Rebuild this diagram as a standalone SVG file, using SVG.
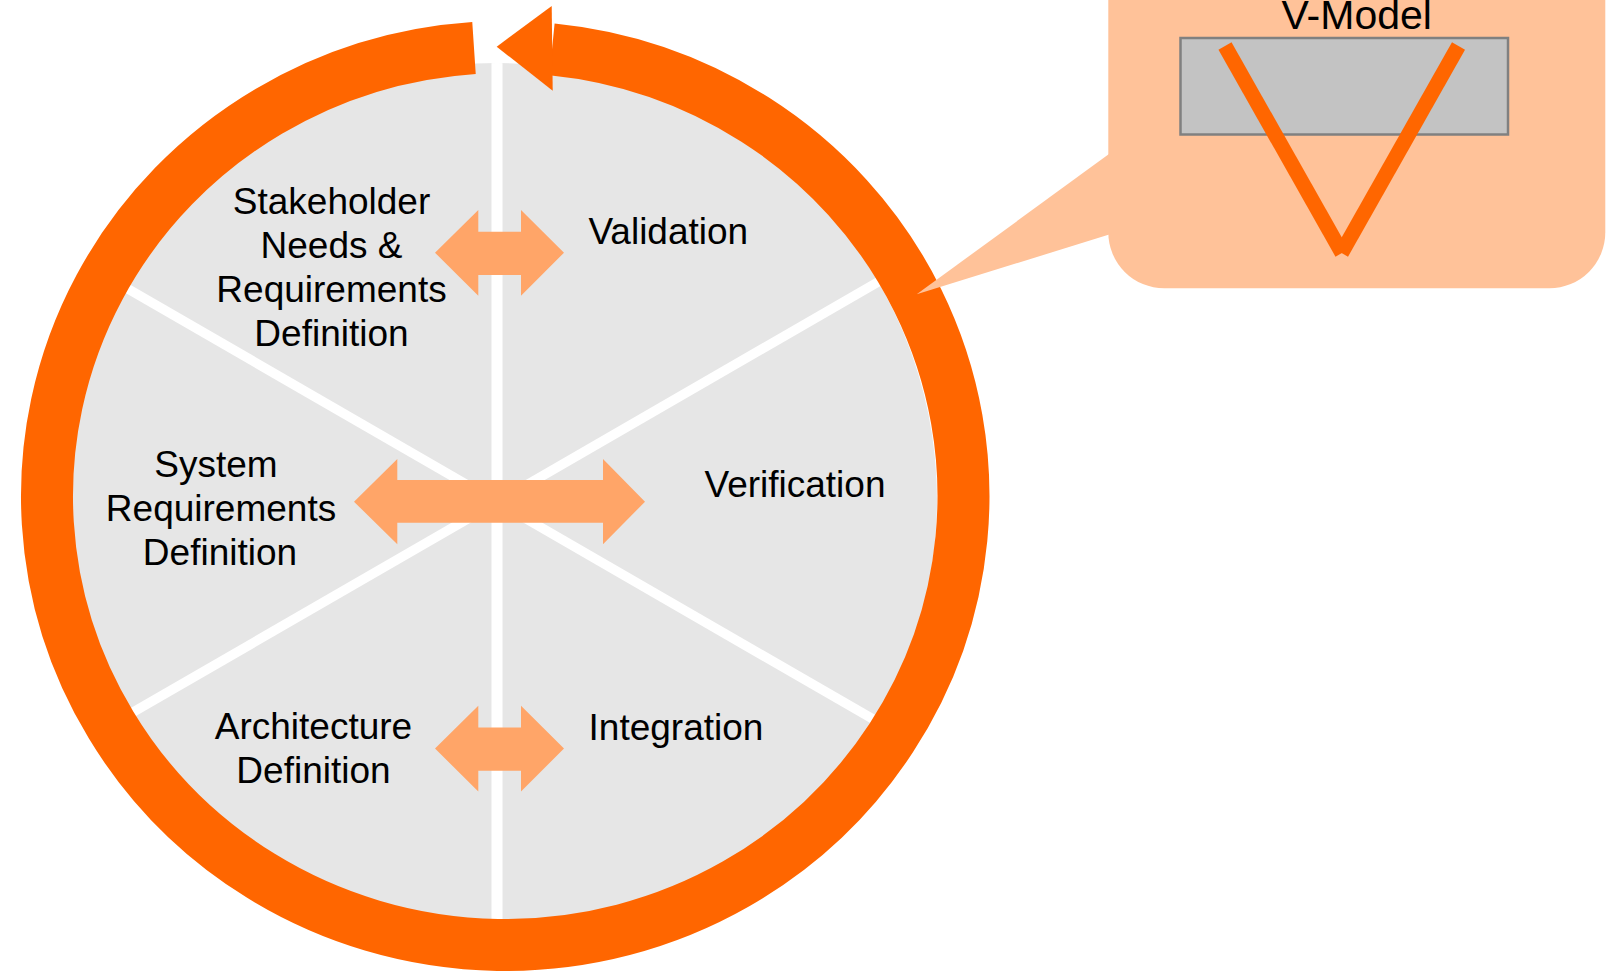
<svg xmlns="http://www.w3.org/2000/svg" width="1612" height="973" viewBox="0 0 1612 973">
  <style>
    .lbl { font-family: "Liberation Sans", Arial, sans-serif; font-size: 37px; fill: #000000; text-anchor: middle; }
    .title { font-family: "Liberation Sans", Arial, sans-serif; font-size: 41px; fill: #000000; text-anchor: middle; }
    .div { stroke: #FFFFFF; fill: none; }
    .dbl { fill: #FFA568; }
    .ring { fill: none; stroke: #FF6600; stroke-width: 52; stroke-linecap: butt; }
    .vline { stroke: #FF6600; stroke-width: 15; stroke-linecap: butt; }
  </style>
  <defs>
    <clipPath id="discClip">
      <ellipse cx="497" cy="500" rx="440" ry="437"/>
    </clipPath>
  </defs>
  <rect x="0" y="0" width="1612" height="973" fill="#FFFFFF"/>

  <g id="disc">
    <ellipse cx="497" cy="500" rx="440" ry="437" fill="#E6E6E6"/>
    <g clip-path="url(#discClip)">
      <line class="div" x1="497" y1="40" x2="497" y2="960" stroke-width="11"/>
      <line class="div" x1="497" y1="502" x2="1037" y2="190.2" stroke-width="9.5"/>
      <line class="div" x1="497" y1="502" x2="-43" y2="813.8" stroke-width="9.5"/>
      <line class="div" x1="497" y1="502" x2="-43" y2="190.2" stroke-width="9.5"/>
      <line class="div" x1="497" y1="502" x2="1037" y2="813.8" stroke-width="9.5"/>
    </g>
  </g>

  <g id="connectors">
    <path id="cycle" class="ring" d="M 552 49.3 A 458.25 449 0 1 1 474 48"/>
    <polygon id="cycle-head" points="551.7,6 496.7,46.7 552.7,90.7" fill="#FF6600"/>
    <polygon id="arrow-top" class="dbl" points="435,252.7 478.3,210 478.3,231.7 521,231.7 521,210 564,252.7 521,295.7 521,275 478.3,275 478.3,295.7"/>
    <polygon id="arrow-mid" class="dbl" points="354,501.7 397.3,459 397.3,480 603,480 603,459 645,501.7 603,544.3 603,522.7 397.3,522.7 397.3,544.3"/>
    <polygon id="arrow-bottom" class="dbl" points="435,748.5 478.3,705.8 478.3,727.5 521,727.5 521,705.8 564,748.5 521,791.5 521,770.8 478.3,770.8 478.3,791.5"/>
  </g>

  <g id="node-stakeholder">
    <text class="lbl" x="331.5" y="214">Stakeholder</text>
    <text class="lbl" x="331.5" y="258.3">Needs &amp;</text>
    <text class="lbl" x="331.5" y="302.3">Requirements</text>
    <text class="lbl" x="331.5" y="346">Definition</text>
  </g>
  <g id="node-system">
    <text class="lbl" x="216" y="477">System</text>
    <text class="lbl" x="221" y="521">Requirements</text>
    <text class="lbl" x="220" y="565">Definition</text>
  </g>
  <g id="node-architecture">
    <text class="lbl" x="313.5" y="738.6">Architecture</text>
    <text class="lbl" x="313.5" y="782.8">Definition</text>
  </g>
  <g id="node-validation">
    <text class="lbl" x="668.3" y="244">Validation</text>
  </g>
  <g id="node-verification">
    <text class="lbl" x="795" y="497.3">Verification</text>
  </g>
  <g id="node-integration">
    <text class="lbl" x="676" y="740">Integration</text>
  </g>

  <g id="callout-vmodel">
    <polygon points="916.7,294.3 1110,153.3 1110,234.3" fill="#FFC299"/>
    <rect x="1108.3" y="-60" width="497" height="348.3" rx="56" ry="56" fill="#FFC299"/>
    <text class="title" x="1356.7" y="29.3">V-Model</text>
    <rect x="1180.5" y="38" width="327.5" height="96.5" fill="#C3C3C3" stroke="#808080" stroke-width="2.5"/>
    <line class="vline" x1="1225" y1="46" x2="1342" y2="253"/>
    <line class="vline" x1="1458.5" y1="46" x2="1341.5" y2="253"/>
  </g>
</svg>
